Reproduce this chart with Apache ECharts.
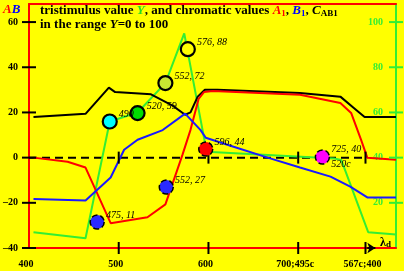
<!DOCTYPE html>
<html><head><meta charset="utf-8">
<script src="https://cdn.jsdelivr.net/npm/echarts@6/dist/echarts.min.js"></script>
<style>html,body{margin:0;padding:0;background:#ffff00}#c{width:404px;height:271px}</style>
</head><body><div id="c"></div>
<script>
const FF = 'Liberation Serif';
const xTickValues = [400, 500, 600, 700, 775];
const xTickLabels = ['400', '500', '600', '700;495c', '567c;400'];
const leftTicks = [-40, -20, 0, 20, 40, 60];
const rightTicks = [20, 40, 60, 80, 100];
const innerTicks = [500, 600, 700, 775];

// tristimulus value Y (right axis, 0..100)
const lumY = [[405,7],[463,4.3],[490,56],[521,60],[552,73],[573,95],[598,42.6],[740,39.6],[748,39],[778,7],[809,6]];
// chromatic values (left axis)
const chromaC = [[405,18],[463,19.4],[489,31],[496,29],[536,28],[560,23],[574,19],[580,20],[588,27],[596,30],[610,30],[702,28.6],[747,27],[762,22],[774,18],[809,18]];
const chromaA = [[405,0],[443,-1.8],[463,-4.4],[491,-29],[532,-26.4],[552,-20.7],[571,1.2],[580,12.3],[589,26],[595,29],[605,29.5],[702,27.8],[747,24.2],[759,19.8],[770,8],[777,0],[809,-0.9]];
const chromaB = [[405,-18.3],[463,-19],[491,-8.8],[506,3.5],[521,7.9],[549,12.2],[574,19.5],[591,12.3],[597,8.8],[628,4.8],[666,0],[702,-4.4],[736,-8.4],[758,-12.8],[777,-17.6],[809,-17.6]];

// marked points (right axis Y values)
const circleX = [490, 521, 552, 577];
const circleY = [56, 59.7, 73, 88];
const circleText = ['490', '520, 59', '552, 72', '576, 88'];
const circleFill = ['#00ffff', '#00dd00', '#c8e632', '#ffff00'];
const dotX = [476, 553, 597, 727];
const dotY = [11.5, 27, 43.8, 40.3];
const dotText = ['475, 11', '552, 27', '596, 44', '725, 40\n520c'];
const dotFill = ['#2a2aff', '#2a2aff', '#ff0000', '#ff00ff'];

const GREEN = '#33ee33';
const chart = echarts.init(document.getElementById('c'));
const tickSeries = (data, size, color, yIdx) => ({
  type: 'scatter', data, symbol: 'rect', symbolSize: size, yAxisIndex: yIdx || 0,
  itemStyle: { color, opacity: 1 }, clip: false, silent: true, z: 5
});
const lineS = (data, color, yIdx) => ({
  type: 'line', data, yAxisIndex: yIdx || 0, showSymbol: false, clip: false,
  lineStyle: { color, width: 2 }, itemStyle: { color }, z: 3, silent: true
});
const sub = (c) => ({ color: c, fontSize: 9, fontWeight: 'bold', fontFamily: FF, verticalAlign: 'top', padding: [5,0,0,0] });
const main = (c, it) => ({ color: c, fontSize: 13, fontWeight: 'bold', fontFamily: FF, lineHeight: 13, fontStyle: it ? 'italic' : 'normal' });

chart.setOption({
  backgroundColor: '#ffff00',
  animation: false,
  title: [
    { text: '{r|A}{b|B}', left: 3, top: 3, padding: 0,
      textStyle: { rich: { r: { color: '#ff0000', fontStyle: 'italic', fontWeight: 'bold', fontSize: 13, fontFamily: FF },
                           b: { color: '#0000ff', fontStyle: 'italic', fontWeight: 'bold', fontSize: 13, fontFamily: FF } } } },
    { text: '{b|tristimulus value }{g|Y}{b|, and chromatic values }{r|A}{rs|1}{b|, }{bl|B}{bls|1}{b|, }{bi|C}{s|AB1}\n{b|in the range }{bi|Y}{b|=0 to 100}',
      left: 40, top: 4, padding: 0,
      textStyle: { rich: { b: main('#000'), bi: main('#000', true), g: main('#22dd22', true), r: main('#ff0000', true), bl: main('#0000ff', true),
                           rs: sub('#ff0000'), bls: sub('#0000ff'), s: sub('#000') } } },
    { text: '{l|λ}{d|d}', left: 380, top: 236, padding: 0,
      textStyle: { rich: { l: { fontSize: 12, fontFamily: FF, color: '#000', lineHeight: 12 }, d: { color: '#000', fontSize: 9, fontFamily: FF, verticalAlign: 'top', padding: [4,0,0,0] } } } }
  ],
  grid: { left: 28, right: 8, top: 4, bottom: 23 },
  xAxis: [
    { type: 'value', min: 400, max: 809, position: 'bottom',
      axisLine: { onZero: false, lineStyle: { color: '#ff0000', width: 2 } },
      axisTick: { show: false }, splitLine: { show: false },
      axisLabel: { customValues: xTickValues, formatter: v => xTickLabels[xTickValues.indexOf(v)],
                   fontFamily: FF, fontWeight: 'bold', fontSize: 10, color: '#000', margin: 11, padding: [0,6,0,0] } },
    { type: 'value', min: 400, max: 809, position: 'top',
      axisLine: { onZero: false, lineStyle: { color: '#ff0000', width: 2 } },
      axisTick: { show: false }, axisLabel: { show: false }, splitLine: { show: false } }
  ],
  yAxis: [
    { type: 'value', min: -40, max: 68, interval: 20, position: 'left',
      axisLine: { onZero: false, lineStyle: { color: '#ff0000', width: 2 } },
      axisTick: { show: false }, splitLine: { show: false },
      axisLabel: { customValues: leftTicks, formatter: v => String(v).replace('-', '–'), fontFamily: FF, fontWeight: 'bold', fontSize: 10, color: '#000', margin: 11 } },
    { type: 'value', min: 0, max: 108, interval: 20, position: 'right',
      axisLine: { onZero: false, lineStyle: { color: GREEN, width: 2 } },
      axisTick: { show: false }, splitLine: { show: false },
      axisLabel: { inside: true, customValues: rightTicks, fontFamily: FF, fontWeight: 'bold', fontSize: 10, color: GREEN, margin: 13 } }
  ],
  series: [
    { type: 'line', data: [[400,0],[777,0]], showSymbol: false, silent: true, z: 2,
      lineStyle: { color: '#000', width: 2, type: [8,5] },
      markLine: { silent: true, symbol: ['none','arrow'], symbolSize: 8, label: { show: false },
        lineStyle: { color: '#000', width: 2, type: 'solid' },
        data: [ [ { coord: [777,-40] }, { coord: [786,-40] } ], [ { coord: [400,61] }, { coord: [400,69] } ] ] } },
    lineS(lumY, GREEN, 1),
    lineS(chromaC, '#000'),
    lineS(chromaA, '#ff0000'),
    lineS(chromaB, '#1a1aff'),
    tickSeries(leftTicks.map(v => [400, v]), [14,2], '#000'),
    tickSeries(innerTicks.map(v => [v, -40]), [2,12], '#000'),
    tickSeries(innerTicks.map(v => [v, 0]), [2,12], '#000'),
    tickSeries(rightTicks.map(v => [809, v]), [14,2], GREEN, 1),
    { type: 'scatter', yAxisIndex: 1, z: 6, silent: true, symbolSize: 14,
      data: circleX.map((x, i) => ({ value: [x, circleY[i]], itemStyle: { color: circleFill[i] }, label: { formatter: circleText[i] } })),
      itemStyle: { borderColor: '#000', borderWidth: 2.2, opacity: 1 },
      label: { show: true, position: 'right', distance: 1, offset: [0,-7], fontFamily: FF, fontStyle: 'italic', fontSize: 10, color: '#000' } },
    { type: 'scatter', yAxisIndex: 1, z: 6, silent: true, symbolSize: 14,
      data: dotX.map((x, i) => ({ value: [x, dotY[i]], itemStyle: { color: dotFill[i] },
        label: { formatter: dotText[i], offset: i === 3 ? [0,0] : [0,-7] } })),
      itemStyle: { borderColor: '#000', borderWidth: 1.5, borderType: 'dashed', opacity: 1 },
      label: { show: true, position: 'right', distance: 1, fontFamily: FF, fontStyle: 'italic', fontSize: 10, color: '#000', lineHeight: 15 } }
  ]
});
</script></body></html>
